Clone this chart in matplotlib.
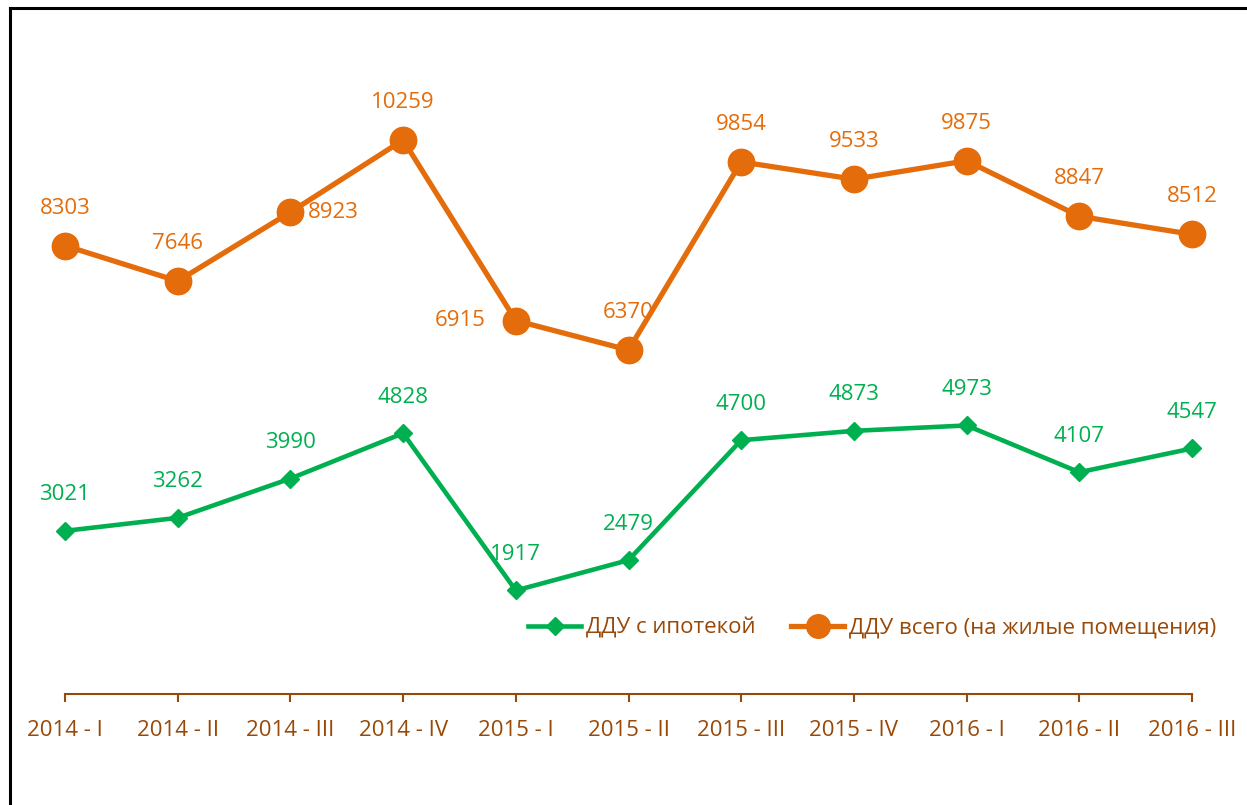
import matplotlib.pyplot as plt
from matplotlib.lines import Line2D

quarters = ['2014 - I', '2014 - II', '2014 - III', '2014 - IV', '2015 - I', '2015 - II',
            '2015 - III', '2015 - IV', '2016 - I', '2016 - II', '2016 - III']
ddu_total = [8303, 7646, 8923, 10259, 6915, 6370, 9854, 9533, 9875, 8847, 8512]
ddu_mortgage = [3021, 3262, 3990, 4828, 1917, 2479, 4700, 4873, 4973, 4107, 4547]

orange = '#E46C0A'
green = '#00B050'
brown = '#984807'

plt.rcParams['font.family'] = ['Open Sans', 'DejaVu Sans']

fig = plt.figure(figsize=(12.47, 8.05), dpi=100)
ax = fig.add_axes([65 / 1247, 111 / 805, (1192 - 65) / 1247, (694 - 46) / 805])

x = list(range(len(quarters)))
ax.plot(x, ddu_total, color=orange, linewidth=3.8, marker='o', markersize=19,
        zorder=3, clip_on=False)
ax.plot(x, ddu_mortgage, color=green, linewidth=3.3, marker='D', markersize=9,
        zorder=3, clip_on=False)

# подписи значений (смещения в точках)
total_offsets = [(0, 27), (0, 27), (31, 0), (0, 27), (-40, 0), (0, 27),
                 (0, 27), (0, 27), (0, 27), (0, 27), (0, 27)]
for xi, v, off in zip(x, ddu_total, total_offsets):
    ax.annotate(str(v), (xi, v), xytext=off, textcoords='offset points',
                ha='center', va='center', color=orange, fontsize=16)
for xi, v in zip(x, ddu_mortgage):
    ax.annotate(str(v), (xi, v), xytext=(0, 26), textcoords='offset points',
                ha='center', va='center', color=green, fontsize=16)

ax.set_xlim(0, 10)
ax.set_ylim(0, 12000)
for s in ['top', 'right', 'left']:
    ax.spines[s].set_visible(False)
ax.spines['bottom'].set_color(brown)
ax.spines['bottom'].set_linewidth(1.5)
ax.set_yticks([])
ax.set_xticks(x)
ax.set_xticklabels(quarters, fontsize=16, color=brown)
ax.tick_params(axis='x', direction='out', length=6, width=1.5, color=brown, pad=13)

handles = [Line2D([], [], color=green, linewidth=3.3, marker='D', markersize=9),
           Line2D([], [], color=orange, linewidth=3.8, marker='o', markersize=17)]
leg = fig.legend(handles, ['ДДУ с ипотекой', 'ДДУ всего (на жилые помещения)'],
                 loc='center', bbox_to_anchor=(872 / 1247, 1 - 628 / 805), ncol=2,
                 frameon=False, fontsize=16, handlelength=2.4, handletextpad=0.2,
                 columnspacing=1.6)
for t in leg.get_texts():
    t.set_color(brown)

# рамка
fig.add_artist(Line2D([9.5 / 1247, 9.5 / 1247], [0, 1 - 8 / 805], color='black', linewidth=2.2))
fig.add_artist(Line2D([9.5 / 1247, 1], [1 - 8 / 805, 1 - 8 / 805], color='black', linewidth=2.2))

fig.savefig('out.png', dpi=100)
